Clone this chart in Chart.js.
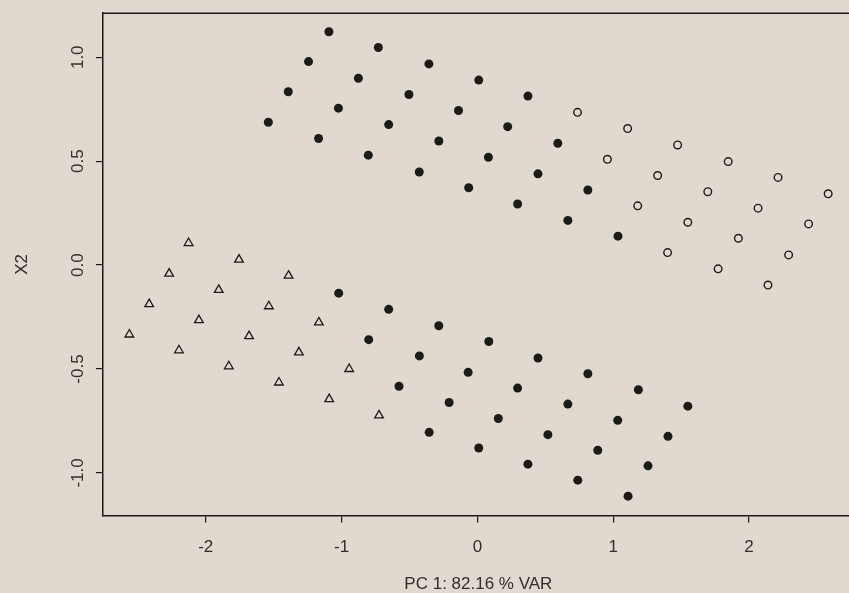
<!DOCTYPE html>
<html>
<head>
<meta charset="utf-8">
<script src="https://cdn.jsdelivr.net/npm/chart.js@4.4.1/dist/chart.umd.min.js"></script>
<style>
  html, body { margin: 0; padding: 0; overflow: hidden; background: #e1d8cf; }
  #wrap { width: 860px; height: 593px; position: relative; }
</style>
</head>
<body>
<div id="wrap"><canvas id="pca"></canvas></div>
<script>
// scores on PC 1 (x) and X2 (y)
const solidUpper = [
  [-1.539, 0.687], [-1.392, 0.834], [-1.243, 0.979], [-1.093, 1.123],
  [-1.169, 0.609], [-1.023, 0.755], [-0.876, 0.899], [-0.729, 1.047],
  [-0.803, 0.529], [-0.653, 0.676], [-0.504, 0.821], [-0.357, 0.968],
  [-0.428, 0.448], [-0.284, 0.597], [-0.139, 0.744], [0.010, 0.890],
  [-0.064, 0.372], [0.081, 0.519], [0.223, 0.666], [0.372, 0.813],
  [0.296, 0.294], [0.446, 0.439], [0.592, 0.586],
  [0.666, 0.215], [0.813, 0.361], [1.035, 0.139]
];
const solidLower = [
  [-1.021, -0.135], [-0.653, -0.213], [-0.284, -0.292], [0.084, -0.368],
  [-0.800, -0.359], [-0.427, -0.437], [-0.068, -0.516], [0.446, -0.447],
  [-0.577, -0.583], [-0.208, -0.661], [-0.355, -0.805], [0.813, -0.523],
  [1.185, -0.600], [1.549, -0.679], [0.296, -0.592], [0.666, -0.669],
  [1.033, -0.747], [1.403, -0.824], [0.154, -0.738], [0.519, -0.816],
  [0.886, -0.891], [1.256, -0.966], [0.010, -0.880], [0.372, -0.958],
  [0.739, -1.035], [1.109, -1.112]
];
const openCircles = [
  [0.737, 0.735], [1.106, 0.657], [1.474, 0.578], [1.846, 0.498],
  [2.213, 0.422], [2.582, 0.343], [0.957, 0.509], [1.327, 0.431],
  [1.696, 0.353], [2.066, 0.274], [2.438, 0.198], [1.180, 0.285],
  [1.549, 0.206], [1.921, 0.129], [2.291, 0.049], [1.400, 0.060],
  [1.772, -0.018], [2.139, -0.096]
];
const triangles = [
  [-2.562, -0.334], [-2.416, -0.188], [-2.269, -0.041], [-2.126, 0.106],
  [-2.197, -0.410], [-2.050, -0.265], [-1.904, -0.119], [-1.755, 0.026],
  [-1.830, -0.487], [-1.681, -0.342], [-1.535, -0.198], [-1.390, -0.051],
  [-1.461, -0.565], [-1.314, -0.420], [-1.167, -0.276], [-1.091, -0.645],
  [-0.944, -0.500], [-0.724, -0.723]
];
const xTicks = [-2, -1, 0, 1, 2];
const yTicks = [-1.0, -0.5, 0.0, 0.5, 1.0];
const xTitle = "PC 1: 82.16 % VAR";
const yTitle = "X2";

const ink = "#1b1b17";
const textInk = "#2f2f2c";
const font = { family: "'Liberation Sans', Arial, sans-serif", size: 17 };

const toPoints = arr => arr.map(([x, y]) => ({ x, y }));

// top edge of the plot box (left and bottom come from the axes)
const frameTop = {
  id: "frameTop",
  afterDraw(chart) {
    const { ctx, chartArea } = chart;
    ctx.save();
    ctx.strokeStyle = ink;
    ctx.lineWidth = 1.5;
    ctx.beginPath();
    ctx.moveTo(chartArea.left, chartArea.top);
    ctx.lineTo(chartArea.right + 10, chartArea.top);
    ctx.stroke();
    ctx.restore();
  }
};

new Chart(document.getElementById("pca"), {
  type: "scatter",
  data: {
    datasets: [
      { data: toPoints(solidUpper), pointStyle: "circle", pointRadius: 4.5,
        backgroundColor: ink, borderColor: ink, borderWidth: 0 },
      { data: toPoints(solidLower), pointStyle: "circle", pointRadius: 4.5,
        backgroundColor: ink, borderColor: ink, borderWidth: 0 },
      { data: toPoints(openCircles), pointStyle: "circle", pointRadius: 3.8,
        backgroundColor: "rgba(0,0,0,0)", borderColor: ink, borderWidth: 1.4 },
      { data: toPoints(triangles), pointStyle: "triangle", pointRadius: 5,
        backgroundColor: "rgba(0,0,0,0)", borderColor: ink, borderWidth: 1.3 }
    ]
  },
  options: {
    responsive: true,
    maintainAspectRatio: false,
    animation: false,
    events: [],
    layout: { padding: { top: 11.5, right: 4.5, left: 0, bottom: 0 } },
    plugins: { legend: { display: false }, tooltip: { enabled: false } },
    scales: {
      x: {
        type: "linear",
        min: -2.756,
        max: 2.770,
        afterFit: s => { s.height = 77.5; },
        afterBuildTicks: s => { s.ticks = xTicks.map(v => ({ value: v })); },
        border: { display: true, color: ink, width: 1.5 },
        grid: { drawOnChartArea: false, drawTicks: true, tickLength: 7, color: ink, lineWidth: 1.2 },
        ticks: { color: textInk, font, padding: 15, maxRotation: 0, callback: v => String(v) },
        title: { display: true, text: xTitle, color: textInk, font: { ...font, lineHeight: 1 },
                 padding: { top: 0, bottom: 0 } }
      },
      y: {
        type: "linear",
        min: -1.205,
        max: 1.212,
        afterFit: s => { s.width = 103; },
        afterBuildTicks: s => { s.ticks = yTicks.map(v => ({ value: v })); },
        border: { display: true, color: ink, width: 1.5 },
        grid: { drawOnChartArea: false, drawTicks: true, tickLength: 7, color: ink, lineWidth: 1.2 },
        ticks: { color: textInk, font, padding: 3, minRotation: 90, maxRotation: 90,
                 crossAlign: "center", callback: v => v.toFixed(1) },
        title: { display: true, text: yTitle, color: textInk, font: { ...font, lineHeight: 1 },
                 padding: { top: 14, bottom: 0 } }
      }
    }
  },
  plugins: [frameTop]
});
</script>
</body>
</html>
